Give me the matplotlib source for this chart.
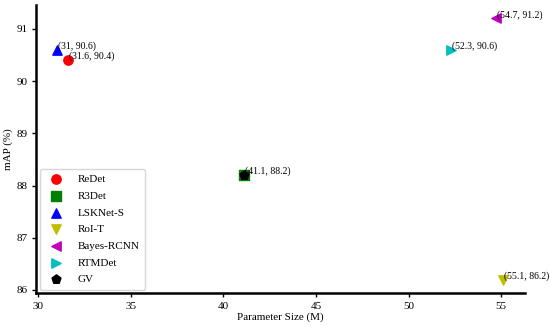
import matplotlib.pyplot as plt

plt.rcParams['font.family'] = ['Liberation Serif', 'DejaVu Serif']

modelos = ['ReDet', 'R3Det', 'LSKNet-S', 'RoI-T', 'Bayes-RCNN', 'RTMDet', 'GV']
params = [31.6, 41.1, 31.0, 55.1, 54.7, 52.3, 41.1]
map_vals = [90.4, 88.2, 90.6, 86.2, 91.2, 90.6, 88.2]
rotulos = ['(31.6, 90.4)', '(41.1, 88.2)', '(31, 90.6)', '(55.1, 86.2)',
           '(54.7, 91.2)', '(52.3, 90.6)', '(41.1, 88.2)']

cores = ['red', 'green', 'blue', 'y', 'm', 'c', 'black']
marcadores = ['o', 's', '^', 'v', '<', '>', 'p']

fig = plt.figure(figsize=(5.5, 3.26), dpi=100)
ax = fig.add_axes([0.066, 0.101, 0.889, 0.884])

for m, x, y, c, mk in zip(modelos, params, map_vals, cores, marcadores):
    ax.scatter(x, y, color=c, marker=mk, s=45, label=m, zorder=3)

# rotulos (GV fica por cima do R3Det)
for x, y, r in zip(params[:-1], map_vals[:-1], rotulos[:-1]):
    ax.text(x + 0.05, y - 0.02, r, fontsize=7, ha='left', va='bottom', zorder=4)

ax.set_xlim(29.9, 56.3)
ax.set_ylim(85.94, 91.46)
ax.set_xticks([30, 35, 40, 45, 50, 55])
ax.set_yticks([86, 87, 88, 89, 90, 91])
ax.tick_params(labelsize=8, width=1, length=3)
ax.set_xlabel('Parameter Size (M)', fontsize=8, labelpad=1)
ax.set_ylabel('mAP (%)', fontsize=8, labelpad=2)

for lado in ['top', 'right']:
    ax.spines[lado].set_visible(False)
for lado in ['left', 'bottom']:
    ax.spines[lado].set_linewidth(1.8)

ax.legend(loc='lower left', fontsize=8, frameon=True, handletextpad=0.9,
          borderpad=0.5, labelspacing=0.62, borderaxespad=0.3)

fig.savefig('out.png', dpi=100)
